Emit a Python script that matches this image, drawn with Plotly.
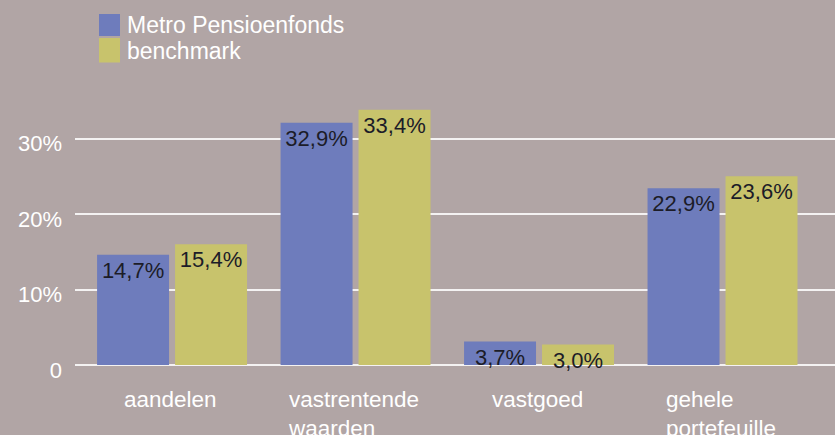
import plotly.graph_objects as go

categories = ["aandelen", "vastrentende<br>waarden", "vastgoed", "gehele<br>portefeuille"]
# bar heights as drawn in the picture (%)
metro = [14.6, 32.1, 3.1, 23.4]
benchmark = [16.0, 33.8, 2.7, 25.0]
# value labels as printed on the bars
metro_labels = ["14,7%", "32,9%", "3,7%", "22,9%"]
benchmark_labels = ["15,4%", "33,4%", "3,0%", "23,6%"]
series_names = ["Metro Pensioenfonds", "benchmark"]
tick_vals = [0, 10, 20, 30]
tick_text = ["0", "10%", "20%", "30%"]

BG = "#b1a5a5"
BLUE = "#6e7cbc"
YELLOW = "#c8c36c"
FONT = "Liberation Sans, Arial, sans-serif"

W, H = 835, 435
ML, MR, MT, MB = 75, 0, 80, 70
PW, PH = W - ML - MR, H - MT - MB


def px(x):
    return (x - ML) / PW


def py(y):
    return (H - MB - y) / PH


fig = go.Figure()
for name, vals, labels, col in [(series_names[0], metro, metro_labels, BLUE),
                                (series_names[1], benchmark, benchmark_labels, YELLOW)]:
    fig.add_trace(go.Bar(
        x=list(range(len(categories))), y=vals, name=name,
        marker=dict(color=col, line=dict(width=0)),
        text=labels, textposition="inside",
        insidetextanchor="end", textangle=0, constraintext="none",
        insidetextfont=dict(family=FONT, size=22, color="#1c1c28"),
        cliponaxis=False,
        showlegend=False, hoverinfo="skip",
    ))

# x category labels (left-aligned lines, centered block)
for i, c in enumerate(categories):
    fig.add_annotation(x=i, xref="x", y=0, yref="paper", yanchor="top", xanchor="center",
                       yshift=-20, xshift=-2, text=c, showarrow=False, align="left",
                       font=dict(family=FONT, size=22.5, color="white"))

# legend
legend_rows = [(14, 36, 25), (38, 62.5, 51)]
for (y0, y1, yc), name, col in zip(legend_rows, series_names, [BLUE, YELLOW]):
    fig.add_shape(type="rect", xref="paper", yref="paper", x0=px(99), x1=px(120),
                  y0=py(y1), y1=py(y0), fillcolor=col, line=dict(width=0))
    fig.add_annotation(x=px(125), xref="paper", y=py(yc), yref="paper", xanchor="left",
                       yanchor="middle", text=name, showarrow=False,
                       font=dict(family=FONT, size=23, color="white"))

fig.update_layout(
    width=W, height=H, margin=dict(l=ML, r=MR, t=MT, b=MB),
    paper_bgcolor=BG, plot_bgcolor=BG,
    barmode="group", bargap=0.15, bargroupgap=0.077,
    font=dict(family=FONT, size=22, color="white"),
    showlegend=False,
)
fig.update_xaxes(range=[-0.529, 3.613], showticklabels=False, showgrid=False,
                 zeroline=False, showline=False, ticks="")
fig.update_yaxes(range=[0, PH / 7.55], tickvals=tick_vals, ticktext=tick_text,
                 showgrid=True, gridcolor="#f4f2f2", gridwidth=1.5,
                 zeroline=True, zerolinecolor="#f4f2f2", zerolinewidth=1.5,
                 showline=False, ticks="", ticklabelstandoff=12, ticklabelshift=5,
                 tickfont=dict(family=FONT, size=22, color="white"))

fig.write_html("out.html", config={"displayModeBar": False},
               post_script="document.body.style.margin='0';")
